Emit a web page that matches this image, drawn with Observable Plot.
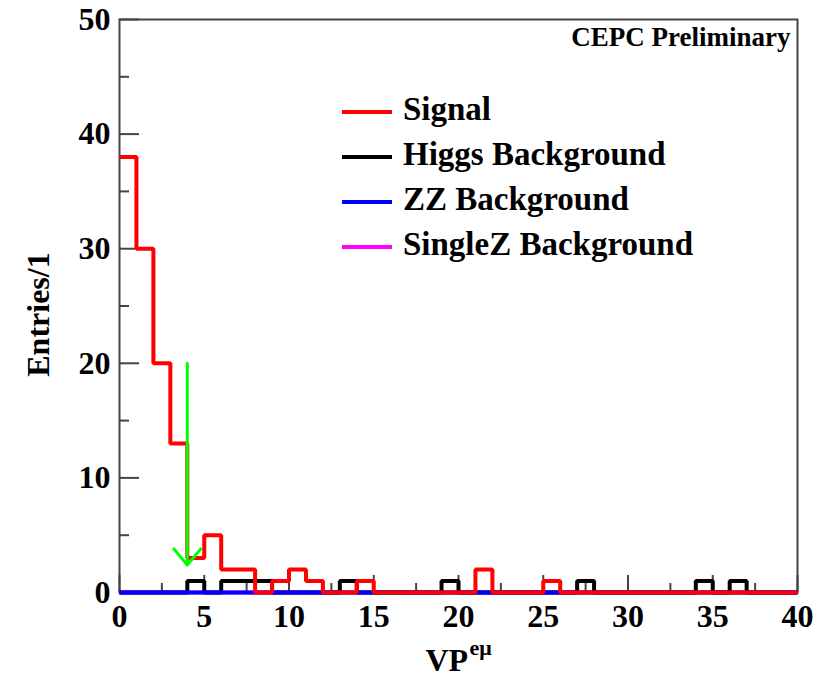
<!DOCTYPE html>
<html><head><meta charset="utf-8">
<script src="https://cdn.jsdelivr.net/npm/d3@7"></script>
<script src="https://cdn.jsdelivr.net/npm/@observablehq/plot@0.6"></script>
<style>
body{margin:0;background:#fff;}
#chart{position:relative;width:826px;height:677px;}
</style></head><body><div id="chart"></div>
<script>
// ---- data (bins of width 1 from 0 to 40) ----
const binWidth = 1;
const xDomain = [0, 40];
const yDomain = [0, 50];
const signal     = [38,30,20,13,3,5,2,2,0,1, 2,1,0,0,1,0,0,0,0,0, 0,2,0,0,0,1,0,0,0,0, 0,0,0,0,0,0,0,0,0,0];
const higgsBkg   = [0,0,0,0,1,0,1,1,1,0, 0,0,0,1,0,0,0,0,0,1, 0,0,0,0,0,0,0,1,0,0, 0,0,0,0,1,0,1,0,0,0];
const zzBkg      = [0,0,0,0,0,0,0,0,0,0, 0,0,0,0,0,0,0,0,0,0, 0,0,0,0,0,0,0,0,0,0, 0,0,0,0,0,0,0,0,0,0];
const singleZBkg = [0,0,0,0,0,0,0,0,0,0, 0,0,0,0,0,0,0,0,0,0, 0,0,0,0,0,0,0,0,0,0, 0,0,0,0,0,0,0,0,0,0];
const seriesNames  = ["Signal", "Higgs Background", "ZZ Background", "SingleZ Background"];
const seriesColors = ["#ff0000", "#000000", "#0000ff", "#ff00ff"];
const xMajorTicks = [0,5,10,15,20,25,30,35,40];
const xMinorTicks = [2.5,7.5,12.5,17.5,22.5,27.5,32.5,37.5];
const yMajorTicks = [0,10,20,30,40,50];
const yMinorTicks = [5,15,25,35,45];
const cutArrow = [{x: 4, yFrom: 20, yTo: 2.4}];
const xTitle = "VP", xTitleSup = "eμ", yTitle = "Entries/1", tagText = "CEPC Preliminary";

// ---- build step tables ----
function steps(values) {
  const pts = values.map((v, i) => ({x: i * binWidth, y: v}));
  pts.push({x: values.length * binWidth, y: values[values.length - 1]});
  return pts;
}
const seriesValues = [signal, higgsBkg, zzBkg, singleZBkg];
const drawOrder = [3, 1, 2, 0]; // SingleZ, Higgs, ZZ, Signal on top

const W = 826, H = 677, mL = 119, mR = 29, mT = 19, mB = 85;
const frameW = W - mL - mR, frameH = H - mT - mB;
const font = "'Liberation Serif', 'Times New Roman', serif";
const tickStyle = {stroke: "#444", strokeWidth: 2};

// separate tick tables for the inward tick rules
const xTickRows = xMajorTicks.map(v => ({v})), xMinorRows = xMinorTicks.map(v => ({v}));
const yTickRows = yMajorTicks.map(v => ({v})), yMinorRows = yMinorTicks.map(v => ({v}));

const plot = Plot.plot({
  width: W, height: H,
  marginLeft: mL, marginRight: mR, marginTop: mT, marginBottom: mB,
  x: {domain: xDomain},
  y: {domain: yDomain},
  style: {fontFamily: font, fontWeight: "bold", fontSize: "32px", background: "#fff", color: "#000"},
  marks: [
    // inward ticks
    Plot.ruleX(xTickRows, {x: "v", insetTop: frameH - 17, ...tickStyle}),
    Plot.ruleX(xMinorRows, {x: "v", insetTop: frameH - 9, ...tickStyle}),
    Plot.ruleY(yTickRows, {y: "v", insetRight: frameW - 20, ...tickStyle}),
    Plot.ruleY(yMinorRows, {y: "v", insetRight: frameW - 10, ...tickStyle}),
    Plot.frame({stroke: "#444", strokeWidth: 2}),
    Plot.axisX({ticks: xMajorTicks, tickSize: 0, tickPadding: 12, fontSize: 32, label: null}),
    Plot.axisY({ticks: yMajorTicks, tickSize: 0, tickPadding: 9, fontSize: 32, label: null}),
    ...drawOrder.map(k => Plot.line(steps(seriesValues[k]), {
      x: "x", y: "y", curve: "step-after", stroke: seriesColors[k], strokeWidth: 4, strokeLinejoin: "miter", strokeLinecap: "butt"
    })),
    Plot.arrow(cutArrow, {x: "x", y1: "yFrom", y2: "yTo", stroke: "#00ff00", strokeWidth: 3, headLength: 10.5, headAngle: 80}),
    Plot.text([tagText], {frameAnchor: "top-right", textAnchor: "end", lineAnchor: "bottom", dx: -7, dy: 26, fontSize: 27}),
    Plot.text([yTitle], {frameAnchor: "left", rotate: -90, textAnchor: "middle", lineAnchor: "bottom", dx: -71, dy: 8.5, fontSize: 32}),
    Plot.text([xTitle], {frameAnchor: "bottom", textAnchor: "start", lineAnchor: "bottom", dx: -33, dy: 78, fontSize: 32}),
    Plot.text([xTitleSup], {frameAnchor: "bottom", textAnchor: "start", lineAnchor: "bottom", dx: 11, dy: 62, fontSize: 22})
  ]
});
document.getElementById("chart").appendChild(plot);

// ---- legend inside the frame ----
const legendLayout = {x0: 342, x1: 392, textX: 403, baseline0: 120, rowGap: 45, lineRise: 8};
const svg = d3.select(plot);
const lg = svg.append("g").attr("class", "legend").attr("text-anchor", "start");
seriesNames.forEach((name, i) => {
  const yb = legendLayout.baseline0 + i * legendLayout.rowGap;
  lg.append("line")
    .attr("x1", legendLayout.x0).attr("x2", legendLayout.x1)
    .attr("y1", yb - legendLayout.lineRise).attr("y2", yb - legendLayout.lineRise)
    .attr("stroke", seriesColors[i]).attr("stroke-width", 4);
  lg.append("text")
    .attr("x", legendLayout.textX).attr("y", yb)
    .attr("text-anchor", "start")
    .attr("font-family", font).attr("font-weight", "bold").attr("font-size", 33)
    .attr("fill", "#000").text(name);
});
</script>
</body></html>
